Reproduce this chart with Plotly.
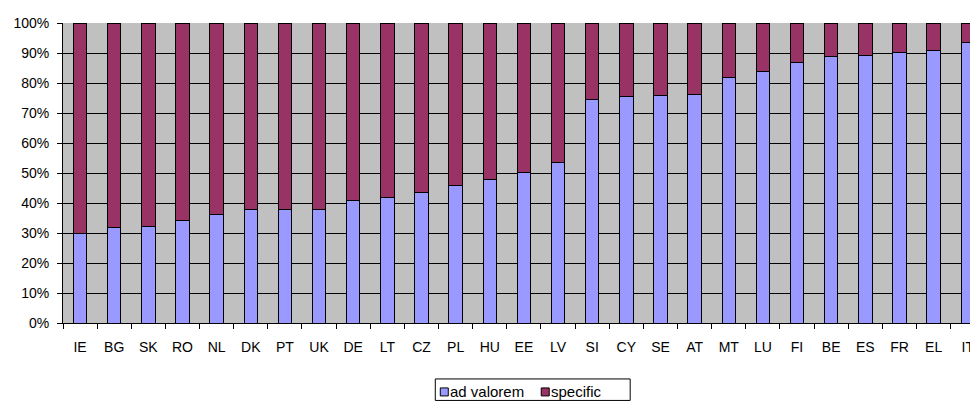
import plotly.graph_objects as go

countries = ["IE", "BG", "SK", "RO", "NL", "DK", "PT", "UK", "DE", "LT", "CZ", "PL",
             "HU", "EE", "LV", "SI", "CY", "SE", "AT", "MT", "LU", "FI", "BE", "ES",
             "FR", "EL", "IT"]
ad_valorem = [29.9, 31.7, 32.3, 34.3, 36.2, 38.0, 38.0, 38.0, 41.0, 42.0, 43.4, 45.8,
              47.7, 50.2, 53.5, 74.4, 75.4, 75.7, 76.3, 82.0, 84.0, 86.9, 88.8, 89.2,
              90.2, 90.7, 93.6]
specific = [round(100 - v, 1) for v in ad_valorem]
y_ticks = list(range(0, 101, 10))

series_names = ["ad valorem", "specific"]
series_colors = ["#9999FF", "#993366"]

W, H = 970, 401
left, top, bottom_px = 62.5, 22.7, 323.0
step = 34.16  # pixel width of one category slot
x_end = -0.5 + (W - left) / step


def px_x(p):
    return (p - left) / (W - left)


def px_y(p):
    return (bottom_px - p) / (bottom_px - top)


fig = go.Figure()
for name, vals, col in zip(series_names, [ad_valorem, specific], series_colors):
    fig.add_bar(x=countries, y=vals, name=name, showlegend=False,
                marker=dict(color=col, line=dict(color="#000000", width=1)))

# boxed legend below the plot
shapes = [dict(type="rect", xref="paper", yref="paper",
               x0=px_x(435), x1=px_x(630), y0=px_y(400.5), y1=px_y(379),
               line=dict(color="#000000", width=1), fillcolor="white")]
annotations = []
legend_slots = [(440, "ad valorem"), (541, "specific")]
for (sx, label), col in zip(legend_slots, series_colors):
    shapes.append(dict(type="rect", xref="paper", yref="paper",
                       x0=px_x(sx), x1=px_x(sx + 8), y0=px_y(396), y1=px_y(388),
                       line=dict(color="#000000", width=1), fillcolor=col))
    annotations.append(dict(xref="paper", yref="paper", x=px_x(sx + 9), y=px_y(392),
                            xanchor="left", yanchor="middle", showarrow=False,
                            text=label, font=dict(size=15, color="#000000"),
                            borderpad=0))

fig.update_layout(
    width=W, height=H,
    barmode="stack",
    bargap=0.605,
    paper_bgcolor="white",
    plot_bgcolor="#C0C0C0",
    margin=dict(l=left, r=0, t=top, b=H - bottom_px, pad=0, autoexpand=False),
    font=dict(family="Liberation Sans, Arial", size=14, color="#000000"),
    showlegend=False,
    shapes=shapes,
    annotations=annotations,
    xaxis=dict(type="category", range=[-0.5, x_end], showgrid=False,
               showline=True, linecolor="#000000", linewidth=1,
               ticks="outside", tickson="boundaries", ticklen=5,
               tickcolor="#000000", ticklabelstandoff=11),
    yaxis=dict(range=[0, 100], tickvals=y_ticks,
               ticktext=[f"{v}%" for v in y_ticks],
               showgrid=True, gridcolor="#000000", gridwidth=1,
               showline=True, linecolor="#000000", linewidth=1,
               ticks="outside", ticklen=5, tickcolor="#000000",
               ticklabelstandoff=5, zeroline=False),
)

fig.write_html("out.html")
